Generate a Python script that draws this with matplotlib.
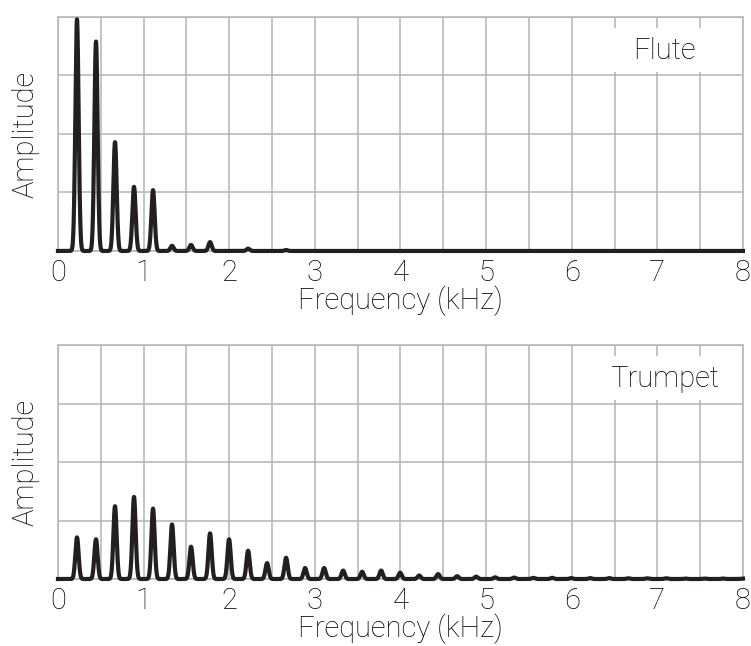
import matplotlib.pyplot as plt
import numpy as np
from matplotlib.patches import Rectangle

# fundamental of both notes (kHz)
f0 = 0.222

# relative harmonic amplitudes, harmonic 1, 2, 3, ...
flute_amps = [0.99, 0.895, 0.465, 0.274, 0.26, 0.022, 0.026, 0.038, 0.0, 0.01, 0.0, 0.004]
trumpet_amps = [0.178, 0.170, 0.311, 0.351, 0.301, 0.233, 0.138, 0.195, 0.170, 0.121,
                0.068, 0.091, 0.047, 0.047, 0.036, 0.031, 0.036, 0.027, 0.015, 0.021,
                0.012, 0.010, 0.007, 0.006, 0.005, 0.005, 0.004, 0.004, 0.004, 0.003,
                0.003, 0.003, 0.002, 0.002, 0.002, 0.002]

instruments = ["Flute", "Trumpet"]
x_ticks = [0, 1, 2, 3, 4, 5, 6, 7, 8]

LINE_COLOR = "#231f20"
GRID_COLOR = "#b4b4b4"
FONT = ["Roboto", "DejaVu Sans"]
FS = 21


def spectrum(freq, amps, width=0.019):
    """sum of narrow peaks at the harmonics of f0"""
    out = np.zeros_like(freq)
    for n, a in enumerate(amps, start=1):
        out += a * np.exp(-0.5 * ((freq - n * f0) / width) ** 2)
    return out


plt.rcParams["font.family"] = FONT
plt.rcParams["font.weight"] = "light"

fig = plt.figure(figsize=(7.51, 6.46), dpi=100)
freq = np.linspace(0, 8, 8000)

positions = [[0.0772, 0.6115, 0.9121, 0.3622],
             [0.0772, 0.1037, 0.9121, 0.3622]]

for pos, name, amps in zip(positions, instruments, [flute_amps, trumpet_amps]):
    ax = fig.add_axes(pos)
    ax.plot(freq, spectrum(freq, amps), color=LINE_COLOR, lw=3.0,
            solid_joinstyle="round", clip_on=False, zorder=3)

    ax.set_xlim(0, 8)
    ax.set_ylim(0, 1)
    ax.set_xticks(np.arange(0, 8.01, 0.5), minor=True)
    ax.set_xticks(x_ticks)
    ax.set_xticklabels([str(t) for t in x_ticks], fontsize=FS, fontweight="light")
    ax.set_yticks([0, 0.25, 0.5, 0.75, 1.0])
    ax.set_yticklabels([])
    ax.tick_params(which="both", length=0, pad=6)
    ax.grid(which="both", color=GRID_COLOR, lw=1.1)
    ax.set_axisbelow(True)
    for s in ax.spines.values():
        s.set_color(GRID_COLOR)
        s.set_linewidth(1.1)

    ax.set_xlabel("Frequency (kHz)", fontsize=FS, fontweight="light", labelpad=-1)
    ax.set_ylabel("Amplitude", fontsize=FS, fontweight="light", labelpad=7)

    # white label box in the upper right corner
    ax.add_patch(Rectangle((0.80, 0.765), 0.197, 0.19, transform=ax.transAxes,
                           facecolor="white", edgecolor="none", zorder=2))
    ax.text(0.885, 0.855, name, transform=ax.transAxes, ha="center", va="center",
            fontsize=FS, fontweight="light", zorder=4)

fig.savefig("out.png", dpi=100)
